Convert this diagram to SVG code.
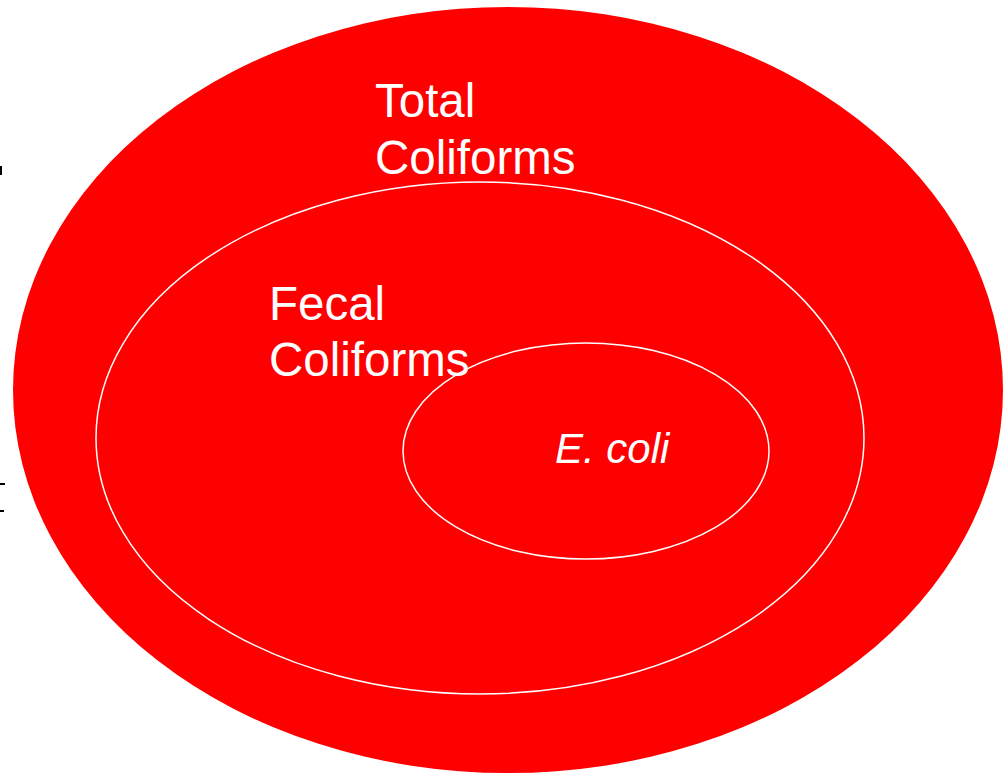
<svg xmlns="http://www.w3.org/2000/svg" width="1005" height="774" viewBox="0 0 1005 774">
<style>
.lbl{font-family:"Liberation Sans",Arial,sans-serif;fill:#fff;font-size:47.5px}
.ring{fill:none;stroke:#fff;stroke-width:1.5}
.mark{fill:#000}
</style>
<rect width="1005" height="774" fill="#fff"/>
<g id="edge-marks">
<rect class="mark" x="0" y="166" width="2" height="9"/>
<rect class="mark" x="0" y="483" width="5" height="2"/>
<rect class="mark" x="0" y="510" width="4" height="2"/>
</g>
<g id="total">
<ellipse cx="508" cy="390" rx="495" ry="383" fill="#ff0000"/>
<text class="lbl" x="375" y="117">Total</text>
<text class="lbl" x="375" y="174">Coliforms</text>
</g>
<g id="fecal">
<ellipse class="ring" cx="480" cy="438" rx="384" ry="256"/>
<text class="lbl" x="269" y="320">Fecal</text>
<text class="lbl" x="269" y="376">Coliforms</text>
</g>
<g id="ecoli">
<ellipse class="ring" cx="586" cy="451" rx="183" ry="108"/>
<text class="lbl" x="555" y="463" style="font-size:42px;font-style:italic">E. coli</text>
</g>
<g id="connectors"/>
</svg>
